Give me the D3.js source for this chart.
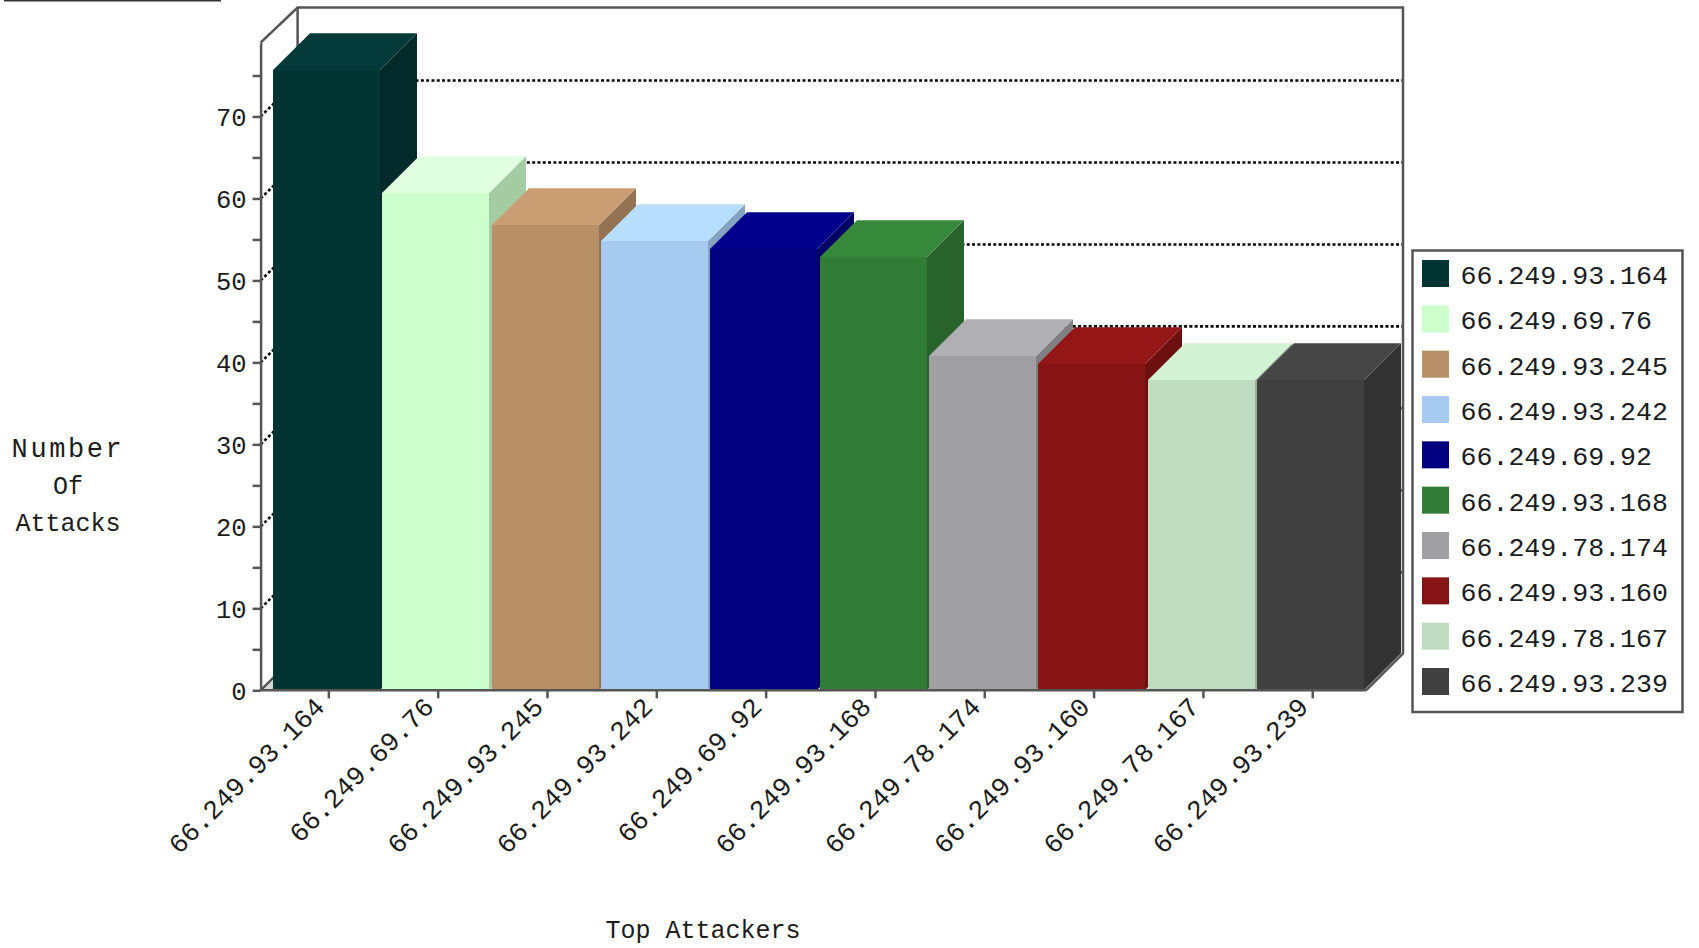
<!DOCTYPE html>
<html>
<head>
<meta charset="utf-8">
<script src="https://cdn.jsdelivr.net/npm/d3@7"></script>
<style>
  body { margin: 0; background: #fff; }
  text { font-family: "Liberation Mono", monospace; font-size: 25px; fill: #1c1c1c; }
</style>
</head>
<body>
<div id="chart"></div>
<script>
const attackers = ["66.249.93.164", "66.249.69.76", "66.249.93.245", "66.249.93.242", "66.249.69.92",
  "66.249.93.168", "66.249.78.174", "66.249.93.160", "66.249.78.167", "66.249.93.239"];
const attacks = [75.7, 60.7, 56.8, 54.8, 53.8, 52.9, 40.8, 39.8, 37.9, 37.9];
const barColors = ["#033434", "#ccffcc", "#b89068", "#a6caf0", "#000080",
  "#317c36", "#a0a0a4", "#871414", "#c0dcc0", "#404040"];
const yTicks = [0, 5, 10, 15, 20, 25, 30, 35, 40, 45, 50, 55, 60, 65, 70, 75];
const gridValues = [10, 20, 30, 40, 50, 60, 70];
const yTitle = ["Number", "Of", "Attacks"];
const xTitle = "Top Attackers";

const width = 1699, height = 948;
const axisColor = "#555";

// 3d offset of the back wall
const depthX = 37, depthY = 36.7;

// plot edges
const plotLeft = 260.6, plotRight = 1366, plotBase = 690.3, plotTop = 42.7;

const svg = d3.select("#chart")
  .append("svg")
  .attr("width", width)
  .attr("height", height)
  .style("display", "block");

const x = d3.scaleBand()
  .domain(attackers)
  .range([273, 1364])
  .paddingInner(0.02);

const y = d3.scaleLinear()
  .domain([0, 79])
  .range([plotBase, plotTop]);

// whole pixels for the bars so the faces meet without seams
const barLeft = d => Math.round(x(d));
const barRight = d => Math.round(x(d) + x.bandwidth());
const barTop = v => Math.round(y(v));
const barBase = Math.round(plotBase);

// leftover rule at the very top
svg.append("line")
  .attr("x1", 4).attr("x2", 221)
  .attr("y1", 0.5).attr("y2", 0.5)
  .attr("stroke", "#333")
  .attr("stroke-width", 2);

// floor
svg.append("polygon")
  .attr("points", [[plotLeft, plotBase], [plotLeft + depthX, plotBase - depthY], [plotRight + depthX, plotBase - depthY], [plotRight, plotBase]].join(" "))
  .attr("fill", "#d8d8d8");

// dotted grid, goes along the left wall then across the back
svg.append("g").selectAll("path")
  .data(gridValues)
  .join("path")
  .attr("d", d => `M${plotLeft},${y(d)}L${plotLeft + depthX},${y(d) - depthY + 0.7}L${plotRight + depthX},${y(d) - depthY + 0.7}`)
  .attr("fill", "none")
  .attr("stroke", "#000")
  .attr("stroke-width", 2.6)
  .attr("stroke-dasharray", "3,2.3");

// wall frame
svg.append("path")
  .attr("d", `M${plotLeft},${plotTop}L${plotLeft + depthX},${plotTop - depthY + 1.5}L${plotRight + depthX},${plotTop - depthY + 1.5}L${plotRight + depthX},${plotBase - depthY}L${plotRight},${plotBase}`)
  .attr("fill", "none")
  .attr("stroke", axisColor)
  .attr("stroke-width", 2.5);
svg.append("path")
  .attr("d", `M${plotLeft + depthX},${plotTop - depthY + 1.5}L${plotLeft + depthX},${plotBase - depthY}L${plotLeft},${plotBase}`)
  .attr("fill", "none")
  .attr("stroke", axisColor)
  .attr("stroke-width", 2.5);

// bars, left to right so each covers the side of the one before
const bars = svg.append("g").selectAll("g")
  .data(attackers)
  .join("g");

bars.append("polygon")
  .attr("points", (d, i) => {
    const x1 = barRight(d), yv = barTop(attacks[i]);
    return [[x1, yv], [x1 + depthX, yv - depthY], [x1 + depthX, barBase - depthY], [x1, barBase]].join(" ");
  })
  .attr("fill", (d, i) => shade(barColors[i], 0.8));

bars.append("polygon")
  .attr("points", (d, i) => {
    const x0 = barLeft(d), x1 = barRight(d), yv = barTop(attacks[i]);
    return [[x0, yv], [x0 + depthX, yv - depthY], [x1 + depthX, yv - depthY], [x1, yv]].join(" ");
  })
  .attr("fill", (d, i) => shade(barColors[i], 1.1));

bars.append("rect")
  .attr("x", d => barLeft(d))
  .attr("y", (d, i) => barTop(attacks[i]))
  .attr("width", d => barRight(d) - barLeft(d))
  .attr("height", (d, i) => barBase - barTop(attacks[i]))
  .attr("fill", (d, i) => barColors[i]);

function shade(color, k) {
  const c = d3.rgb(color);
  return d3.rgb(Math.min(255, c.r * k), Math.min(255, c.g * k), Math.min(255, c.b * k)).formatHex();
}

// y axis
const yAxis = svg.append("g")
  .attr("transform", `translate(${plotLeft},0)`)
  .call(d3.axisLeft(y)
    .tickValues(yTicks)
    .tickSize(8)
    .tickSizeOuter(0)
    .tickPadding(6)
    .tickFormat(d => d % 10 === 0 ? d : ""));
yAxis.select(".domain").attr("stroke", axisColor).attr("stroke-width", 2.5);
yAxis.selectAll(".tick line").attr("stroke", axisColor).attr("stroke-width", 2.5);
yAxis.selectAll(".tick text")
  .attr("dy", "9.5")
  .attr("font-family", null)
  .style("font-size", "25.5px");

// x axis, ticks sit a little right of the bar centres
svg.append("line")
  .attr("x1", plotLeft).attr("x2", plotRight)
  .attr("y1", plotBase).attr("y2", plotBase)
  .attr("stroke", axisColor)
  .attr("stroke-width", 2.5);

const xAxis = svg.append("g")
  .attr("transform", `translate(2.3,${plotBase})`)
  .call(d3.axisBottom(x).tickSize(8).tickSizeOuter(0));
xAxis.select(".domain").remove();
xAxis.selectAll(".tick line").attr("stroke", axisColor).attr("stroke-width", 2.5);
xAxis.selectAll(".tick text")
  .attr("text-anchor", "end")
  .attr("transform", "translate(-16,5) rotate(-45)")
  .attr("x", 0).attr("y", 0)
  .attr("dy", "0.7em")
  .style("font-size", "26.6px");

// axis titles, the first line is wider in the original
svg.append("g").selectAll("text")
  .data(yTitle)
  .join("text")
  .attr("x", 68)
  .attr("y", (d, i) => 456.5 + i * 37.3)
  .attr("text-anchor", "middle")
  .style("font-size", d => d === "Number" ? "27px" : null)
  .style("letter-spacing", d => d === "Number" ? "2.6px" : null)
  .text(d => d);

svg.append("text")
  .attr("x", 703)
  .attr("y", 938)
  .attr("text-anchor", "middle")
  .text(xTitle);

// legend
const legendY = d3.scalePoint().domain(attackers).range([260, 668]);

svg.append("rect")
  .attr("x", 1412.5).attr("y", 250.5)
  .attr("width", 270).attr("height", 461.5)
  .attr("fill", "#fff")
  .attr("stroke", axisColor)
  .attr("stroke-width", 2.5);

const legend = svg.append("g").selectAll("g")
  .data(attackers)
  .join("g")
  .attr("transform", d => `translate(1422,${legendY(d)})`);

legend.append("rect")
  .attr("width", 27)
  .attr("height", 27)
  .attr("fill", (d, i) => barColors[i]);

legend.append("text")
  .attr("x", 38.5)
  .attr("y", 24)
  .style("font-size", "26.6px")
  .text(d => d);
</script>
</body>
</html>
